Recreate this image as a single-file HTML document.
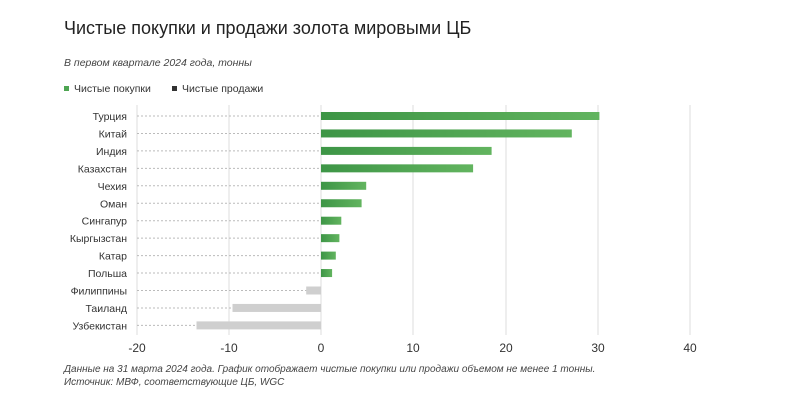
<!DOCTYPE html><html><head><meta charset="utf-8"><style>
body{margin:0;background:#fff;font-family:"Liberation Sans","DejaVu Sans",sans-serif;}
</style></head><body>
<svg width="800" height="405" xmlns="http://www.w3.org/2000/svg" font-family="Liberation Sans, DejaVu Sans, sans-serif">
<defs><linearGradient id="g" x1="0" x2="1"><stop offset="0" stop-color="#3d9546"/><stop offset="1" stop-color="#62b45f"/></linearGradient></defs>
<text x="64" y="34" font-size="18" fill="#222">Чистые покупки и продажи золота мировыми ЦБ</text>
<text x="64" y="66" font-size="10.5" font-style="italic" fill="#444">В первом квартале 2024 года, тонны</text>
<rect x="64" y="86" width="5" height="5" fill="#4ea552"/><text x="74" y="92" font-size="10.5" fill="#333">Чистые покупки</text>
<rect x="172" y="86" width="5" height="5" fill="#333"/><text x="182" y="92" font-size="10.5" fill="#333">Чистые продажи</text>
<g stroke="#dcdcdc" stroke-width="1">
<line x1="137" y1="105" x2="137" y2="335"/><line x1="229" y1="105" x2="229" y2="335"/><line x1="321" y1="105" x2="321" y2="335"/><line x1="413" y1="105" x2="413" y2="335"/><line x1="506" y1="105" x2="506" y2="335"/><line x1="598" y1="105" x2="598" y2="335"/><line x1="690" y1="105" x2="690" y2="335"/>
</g>
<g stroke="#bbb" stroke-dasharray="2,2">
<line x1="137" x2="321" y1="116" y2="116"/><line x1="137" x2="321" y1="133.45" y2="133.45"/><line x1="137" x2="321" y1="150.9" y2="150.9"/><line x1="137" x2="321" y1="168.35" y2="168.35"/><line x1="137" x2="321" y1="185.8" y2="185.8"/><line x1="137" x2="321" y1="203.25" y2="203.25"/><line x1="137" x2="321" y1="220.7" y2="220.7"/><line x1="137" x2="321" y1="238.15" y2="238.15"/><line x1="137" x2="321" y1="255.6" y2="255.6"/><line x1="137" x2="321" y1="273.05" y2="273.05"/><line x1="137" x2="321" y1="290.5" y2="290.5"/><line x1="137" x2="321" y1="307.95" y2="307.95"/><line x1="137" x2="321" y1="325.4" y2="325.4"/>
</g>
<g font-size="10.5" fill="#333" text-anchor="end">
<text x="127" y="120">Турция</text><text x="127" y="137.45">Китай</text><text x="127" y="154.9">Индия</text><text x="127" y="172.35">Казахстан</text><text x="127" y="189.8">Чехия</text><text x="127" y="207.25">Оман</text><text x="127" y="224.7">Сингапур</text><text x="127" y="242.15">Кыргызстан</text><text x="127" y="259.6">Катар</text><text x="127" y="277.05">Польша</text><text x="127" y="294.5">Филиппины</text><text x="127" y="311.95">Таиланд</text><text x="127" y="329.4">Узбекистан</text>
</g>
<g fill="url(#g)">
<rect x="321" y="112" width="278.4" height="8"/><rect x="321" y="129.45" width="250.8" height="8"/><rect x="321" y="146.9" width="170.6" height="8"/><rect x="321" y="164.35" width="152.1" height="8"/><rect x="321" y="181.8" width="45.2" height="8"/><rect x="321" y="199.25" width="40.6" height="8"/><rect x="321" y="216.7" width="20.3" height="8"/><rect x="321" y="234.15" width="18.4" height="8"/><rect x="321" y="251.6" width="14.8" height="8"/><rect x="321" y="269.05" width="11.1" height="8"/>
</g>
<g fill="#cfcfcf">
<rect x="306.2" y="286.5" width="14.8" height="8"/><rect x="232.5" y="303.95" width="88.5" height="8"/><rect x="196.5" y="321.4" width="124.5" height="8"/>
</g>
<g font-size="12" fill="#333" text-anchor="middle">
<text x="137" y="352">-20</text><text x="229" y="352">-10</text><text x="321" y="352">0</text><text x="413" y="352">10</text><text x="506" y="352">20</text><text x="598" y="352">30</text><text x="690" y="352">40</text>
</g>
<text x="64" y="372" font-size="10" font-style="italic" fill="#444">Данные на 31 марта 2024 года. График отображает чистые покупки или продажи объемом не менее 1 тонны.</text>
<text x="64" y="385" font-size="10" font-style="italic" fill="#444">Источник: МВФ, соответствующие ЦБ, WGC</text>
</svg>
</body></html>
